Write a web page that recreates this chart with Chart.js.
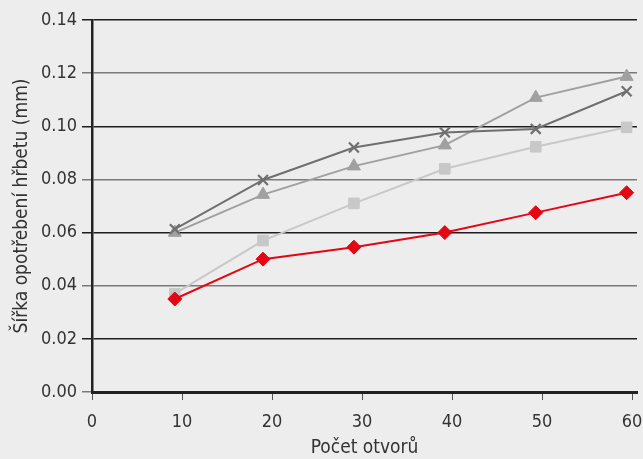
<!DOCTYPE html>
<html>
<head>
<meta charset="utf-8">
<script src="https://cdn.jsdelivr.net/npm/chart.js@4"></script>
<style>
  html, body { margin: 0; padding: 0; background: #ededed; }
  #wrap { width: 643px; height: 459px; position: relative; }
</style>
</head>
<body>
<div id="wrap"><canvas id="chart"></canvas></div>
<script>
const xValues = [9.2, 19, 29.1, 39.2, 49.3, 59.4];
const redValues = [0.035, 0.05, 0.0545, 0.06, 0.0675, 0.075];
const squareValues = [0.037, 0.057, 0.071, 0.084, 0.0923, 0.0996];
const triangleValues = [0.06, 0.0743, 0.085, 0.0929, 0.1108, 0.1187];
const crossValues = [0.0613, 0.0798, 0.092, 0.0977, 0.099, 0.1132];
const xTicks = [0, 10, 20, 30, 40, 50, 60];
const yTitle = "Šířka opotřebení hřbetu (mm)";
const xTitle = "Počet otvorů";

const FONT = "'DejaVu Sans Condensed', sans-serif";
const X_MAX = 60.55;

const points = (vals) => vals.map((v, i) => ({ x: xValues[i], y: v }));

const series = (label, vals, color, style, radius) => ({
  label: label,
  data: points(vals),
  borderColor: color,
  backgroundColor: color,
  pointBackgroundColor: color,
  pointBorderColor: color,
  pointStyle: style,
  pointRadius: radius,
  pointBorderWidth: style === "crossRot" ? 2.2 : 1,
  borderWidth: 2,
  showLine: true,
  tension: 0,
  clip: 10,
});

new Chart(document.getElementById("chart"), {
  type: "scatter",
  data: {
    datasets: [
      series("A", redValues, "#e30613", "rectRot", 7),
      series("D", crossValues, "#6f6f6f", "crossRot", 7),
      series("C", triangleValues, "#a0a0a0", "triangle", 7.5),
      series("B", squareValues, "#c8c8c8", "rect", 7.5),
    ],
  },
  options: {
    responsive: true,
    maintainAspectRatio: false,
    animation: false,
    devicePixelRatio: 1,
    layout: {
      autoPadding: false,
      padding: { top: 20, right: 6, left: 0, bottom: 0 },
    },
    plugins: {
      legend: { display: false },
      tooltip: { enabled: false },
    },
    scales: {
      x: {
        type: "linear",
        min: 0,
        max: X_MAX,
        // extra blank tick at the far end so the "60" label doesn't push the plot in
        afterBuildTicks: (s) => {
          s.ticks = xTicks.concat([X_MAX]).map((v) => ({ value: v }));
        },
        afterFit: (s) => {
          s.height = 67;
          s.paddingRight = 0;
        },
        ticks: {
          color: "#333",
          // tick padding adds to the right margin, so push labels down with lineHeight instead
          padding: 0,
          font: { family: FONT, size: 18, lineHeight: "44px" },
          callback: (v) => (xTicks.includes(v) ? String(v) : ""),
        },
        grid: {
          drawOnChartArea: false,
          tickLength: 8,
          color: (ctx) => (ctx.tick && xTicks.includes(ctx.tick.value) ? "#555" : "rgba(0,0,0,0)"),
          lineWidth: 1,
        },
        border: { color: "#222", width: 3 },
        title: {
          display: true,
          text: xTitle,
          color: "#333",
          font: { family: FONT, size: 19 },
          padding: { top: 0, bottom: 0 },
        },
      },
      y: {
        min: 0,
        max: 0.14,
        afterFit: (s) => { s.width = 92; },
        ticks: {
          stepSize: 0.02,
          color: "#333",
          padding: 5,
          font: { family: FONT, size: 18 },
          callback: (v) => v.toFixed(2),
        },
        grid: {
          tickLength: 10,
          lineWidth: 1.5,
          color: (ctx) => (ctx.index % 2 === 1 ? "#1e1e1e" : "#7a7a7a"),
        },
        border: { color: "#222", width: 2.5 },
        title: {
          display: true,
          text: yTitle,
          color: "#333",
          font: { family: FONT, size: 19 },
          padding: { top: 11, bottom: 0 },
        },
      },
    },
  },
});
</script>
</body>
</html>
